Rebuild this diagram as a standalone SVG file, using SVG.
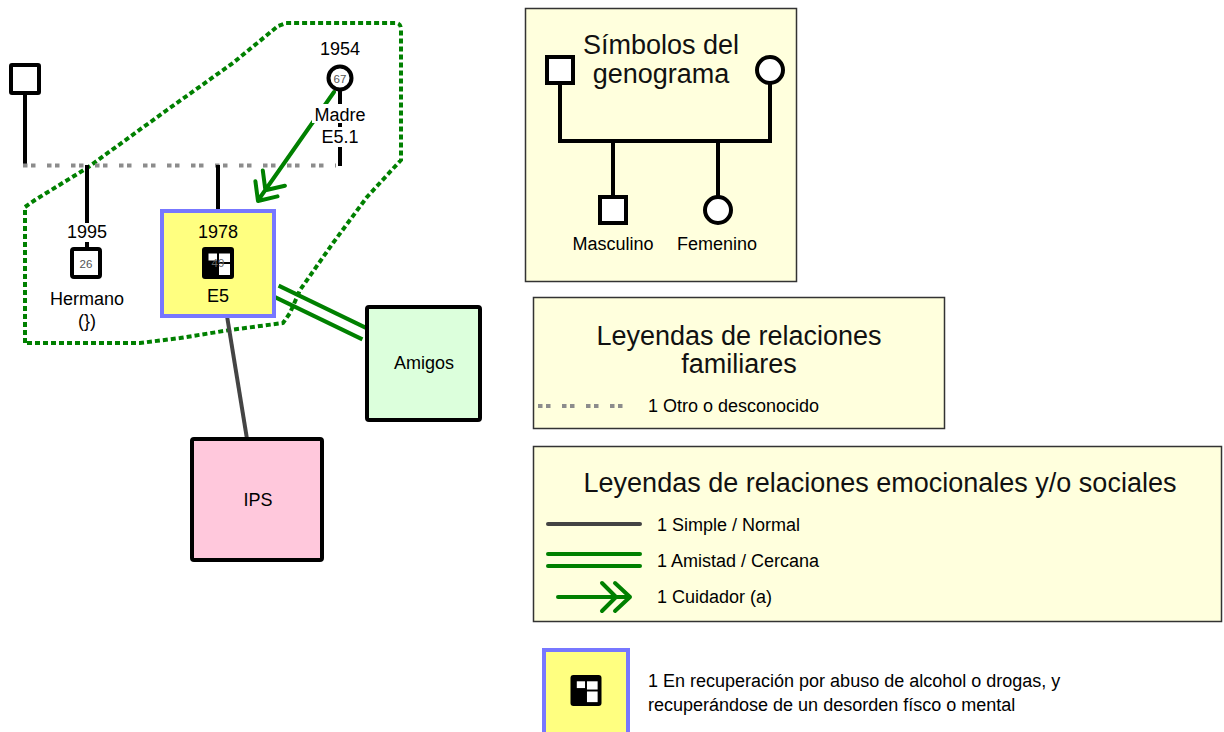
<svg xmlns="http://www.w3.org/2000/svg" width="1224" height="732" viewBox="0 0 1224 732">
<style>
text{font-family:"Liberation Sans",Arial,sans-serif;fill:#000}
.lbl{font-size:18px;text-anchor:middle}
.age{font-size:11.5px;fill:#555;text-anchor:middle}
.ttl{font-size:27px;text-anchor:middle;fill:#111}
.leg{font-size:18px}
.fam{stroke:#000;stroke-width:4;fill:none}
.unk{stroke:#8c8c8c;stroke-width:4;stroke-dasharray:4.5 3.5 4.5 11.5;fill:none}
.simple{stroke:#444;stroke-width:4;fill:none}
.close{stroke:#008000;stroke-width:4;fill:none}
.care{stroke:#008000;stroke-width:4;fill:none;stroke-linecap:round;stroke-linejoin:round}
.hull{stroke:#008000;stroke-width:4;stroke-dasharray:5 3;fill:none}
.legbox{fill:#ffffdd;stroke:#333;stroke-width:1.5}
.bg{fill:#fff}
.person{fill:#fff;stroke:#000;stroke-width:4}
</style>
<defs>
<symbol id="recov" viewBox="0 0 32 32">
<rect x="0" y="0" width="32" height="32" rx="3" fill="#000"/>
<rect x="6.5" y="6.5" width="8.5" height="7" fill="#fff"/>
<rect x="17" y="6.5" width="11" height="8.5" fill="#fff"/>
<rect x="17" y="17" width="11" height="11" fill="#fff"/>
</symbol>
</defs>
<rect width="1224" height="732" fill="#fff"/>

<g id="household">
<path class="hull" d="M25,343 L25,207 L35,200 L87,168 L167,110 L233,63 L278,26 L286,23 L396,23 Q401,23 401,30 L401,160 L367,197 L333,243 L300,290 L290,313 L283,323 L230,330 L180,338 L140,343 Z"/>
</g>

<g id="connectors">
<line class="fam" x1="25" y1="93" x2="25" y2="165"/>
<line class="unk" x1="23" y1="165.5" x2="336" y2="165.5"/>
<line class="fam" x1="87" y1="165" x2="87" y2="249"/>
<line class="fam" x1="218" y1="165" x2="218" y2="211"/>
<line class="fam" x1="340" y1="90" x2="340" y2="166"/>
<line class="simple" x1="227" y1="316" x2="247" y2="439"/>
<line class="close" x1="278.6" y1="285.6" x2="367.6" y2="328.6"/>
<line class="close" x1="273.4" y1="296.4" x2="362.4" y2="339.4"/>
<path class="care" d="M334,92 L259,199 M255.4,181.2 L258,201 L277.5,196.4 M262.8,170.5 L265.4,190.3 L284.9,185.7"/>
</g>

<g id="father">
<rect class="person" x="11" y="65" width="28" height="28" rx="1"/>
</g>

<g id="madre">
<text class="lbl" x="340" y="55">1954</text>
<circle class="person" cx="340" cy="78" r="11.5"/>
<text class="age" x="340" y="83">67</text>
<rect class="bg" x="312" y="104" width="56" height="19"/>
<text class="lbl" x="340" y="121">Madre</text>
<rect class="bg" x="319" y="127" width="42" height="20"/>
<text class="lbl" x="340" y="143">E5.1</text>
</g>

<g id="hermano">
<rect class="bg" x="62" y="223" width="50" height="19"/>
<text class="lbl" x="87" y="238">1995</text>
<rect class="person" x="72" y="249" width="28" height="28" rx="2"/>
<text class="age" x="86" y="268">26</text>
<text class="lbl" x="87" y="305">Hermano</text>
<text class="lbl" x="87" y="327">(})</text>
</g>

<g id="e5">
<rect x="162" y="211" width="112" height="105" fill="#ffff80" stroke="#7777ff" stroke-width="4"/>
<text class="lbl" x="218" y="238">1978</text>
<use href="#recov" x="202" y="247" width="32" height="32"/>
<text class="age" x="218" y="267" style="fill:#666">49</text>
<text class="lbl" x="218" y="302">E5</text>
</g>

<g id="amigos">
<rect x="367" y="307" width="113" height="113" rx="2" fill="#dcffdc" stroke="#000" stroke-width="4"/>
<text class="lbl" x="424" y="369">Amigos</text>
</g>

<g id="ips">
<rect x="192" y="439" width="130" height="121" rx="2" fill="#ffc8dc" stroke="#000" stroke-width="4"/>
<text class="lbl" x="258" y="506">IPS</text>
</g>

<g id="legend-simbolos">
<rect class="legbox" x="525.5" y="8.5" width="271" height="273"/>
<polyline class="fam" points="560,85 560,141 770,141 770,84"/>
<line class="fam" x1="613" y1="141" x2="613" y2="197"/>
<line class="fam" x1="718" y1="141" x2="718" y2="197"/>
<rect class="person" x="547" y="57" width="26" height="26"/>
<circle class="person" cx="770" cy="70" r="13"/>
<rect class="person" x="600" y="197" width="26" height="26"/>
<circle class="person" cx="718" cy="210" r="13"/>
<text class="ttl" x="661" y="54">Símbolos del</text>
<text class="ttl" x="661" y="83">genograma</text>
<text class="lbl" x="613" y="250">Masculino</text>
<text class="lbl" x="717" y="250">Femenino</text>
</g>

<g id="legend-familiares">
<rect class="legbox" x="533.5" y="297.5" width="411" height="131"/>
<text class="ttl" x="739" y="345">Leyendas de relaciones</text>
<text class="ttl" x="739" y="373">familiares</text>
<line class="unk" x1="538" y1="406" x2="632" y2="406"/>
<text class="leg" x="648" y="412">1 Otro o desconocido</text>
</g>

<g id="legend-emocionales">
<rect class="legbox" x="533.5" y="446.5" width="688" height="175"/>
<text class="ttl" x="880" y="492">Leyendas de relaciones emocionales y/o sociales</text>
<line class="simple" x1="548" y1="524" x2="640" y2="524" stroke-linecap="round"/>
<text class="leg" x="657" y="531">1 Simple / Normal</text>
<line class="close" x1="548" y1="554" x2="640" y2="554" stroke-linecap="round"/>
<line class="close" x1="548" y1="566" x2="640" y2="566" stroke-linecap="round"/>
<text class="leg" x="657" y="567">1 Amistad / Cercana</text>
<path class="care" d="M558,597 L630,597 M602,583 L616,597 L602,611 M615,583 L630,597 L615,611"/>
<text class="leg" x="657" y="603">1 Cuidador (a)</text>
</g>

<g id="legend-recuperacion">
<rect x="544" y="650" width="84" height="90" fill="#ffff80" stroke="#7777ff" stroke-width="4"/>
<use href="#recov" x="570" y="675" width="32" height="31"/>
<text class="leg" x="648" y="687">1 En recuperación por abuso de alcohol o drogas, y</text>
<text class="leg" x="648" y="711">recuperándose de un desorden físco o mental</text>
</g>
</svg>
